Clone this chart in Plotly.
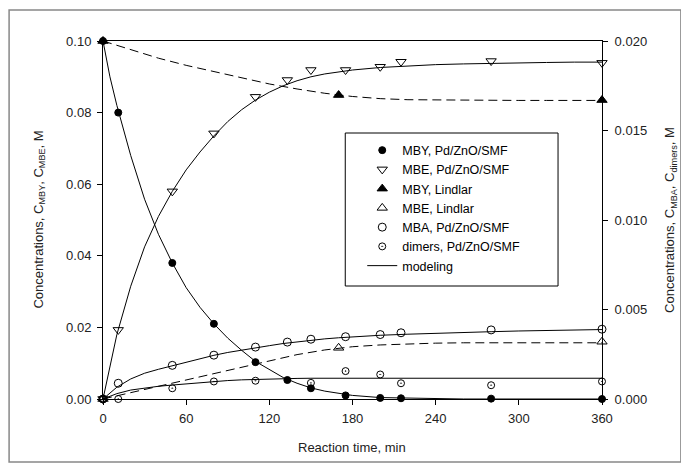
import plotly.graph_objects as go

# ---------------- data ----------------
t_exp = [0, 11, 50, 80, 110, 133, 150, 175, 200, 215, 280, 360]
mby_pd = [0.100, 0.080, 0.038, 0.021, 0.0103, 0.0053, 0.0030, 0.0010, 0.0003, 0.0002, 0.0001, 0.0]
mbe_pd = [0.0, 0.0193, 0.058, 0.0742, 0.0844, 0.0891, 0.0919, 0.0919, 0.0928, 0.0942, 0.0944, 0.0939]
mba_pd = [0.0, 0.00088, 0.00188, 0.00245, 0.0029, 0.00318, 0.00334, 0.00348, 0.0036, 0.0037, 0.00386, 0.0039]
dim_pd = [0.0, 0.0, 0.0006, 0.00098, 0.00102, None, 0.0009, 0.00156, 0.00137, 0.00088, 0.00077, 0.00098]

t_lind = [0, 170, 360]
mby_lind = [0.100, 0.0849, 0.0835]
mbe_lind = [0.0, 0.0143, 0.0160]

t_mod = [0, 5, 10, 20, 30, 40, 50, 60, 70, 80, 90, 100, 110, 120, 130, 140, 150,
         160, 170, 180, 200, 220, 240, 260, 280, 300, 320, 340, 360]
mod_mby_pd = [0.100, 0.090, 0.082, 0.068, 0.0558, 0.046, 0.038, 0.0311, 0.0256, 0.0210,
              0.0170, 0.0136, 0.0105, 0.0082, 0.0060, 0.0044, 0.0031, 0.0022, 0.0015,
              0.0010, 0.0004, 0.0002, 0.0001, 0.0, 0.0, 0.0, 0.0, 0.0, 0.0]
mod_mbe_pd = [0.0, 0.0095, 0.0180, 0.0315, 0.0425, 0.0510, 0.0580, 0.0640, 0.0690, 0.0735,
              0.0775, 0.0808, 0.0835, 0.0857, 0.0875, 0.0889, 0.0900, 0.0908, 0.0914,
              0.0919, 0.0926, 0.0931, 0.0934, 0.0936, 0.0938, 0.0939, 0.0940, 0.0941, 0.0941]
mod_mba_pd = [0.0, 0.00034, 0.00066, 0.00112, 0.00144, 0.00166, 0.00186, 0.00206, 0.00226,
              0.00244, 0.0026, 0.00274, 0.00286, 0.00298, 0.0031, 0.0032, 0.00328, 0.00336,
              0.00342, 0.00348, 0.00356, 0.00362, 0.00368, 0.00372, 0.00376, 0.0038,
              0.00382, 0.00386, 0.00388]
mod_dim_pd = [0.0, 0.00015, 0.0003, 0.0005, 0.00062, 0.00071, 0.00078, 0.00085, 0.00092,
              0.00098, 0.00103, 0.00107, 0.0011, 0.00112, 0.00114, 0.00115, 0.00116,
              0.00116, 0.00116, 0.00116, 0.00116, 0.00116, 0.00116, 0.00116, 0.00116,
              0.00116, 0.00116, 0.00116, 0.00116]

t_mod_l = [0, 20, 40, 60, 80, 100, 120, 140, 160, 180, 200, 220, 240, 260, 280, 300, 320, 340, 360]
mod_mby_l = [0.1000, 0.0975, 0.0952, 0.0932, 0.0914, 0.0897, 0.0880, 0.0866, 0.0854, 0.0845,
             0.0839, 0.0836, 0.0835, 0.0834, 0.0834, 0.0834, 0.0834, 0.0834, 0.0834]
mod_mbe_l = [0.0, 0.0018, 0.0035, 0.0053, 0.0071, 0.0090, 0.0108, 0.0124, 0.0137, 0.0146,
             0.0151, 0.0154, 0.0156, 0.0157, 0.0157, 0.0157, 0.0157, 0.0157, 0.0157]

x_ticks = [0, 60, 120, 180, 240, 300, 360]
yl_ticks = [0.00, 0.02, 0.04, 0.06, 0.08, 0.10]
yr_ticks = [0.000, 0.005, 0.010, 0.015, 0.020]

names = ["MBY, Pd/ZnO/SMF", "MBE, Pd/ZnO/SMF", "MBY, Lindlar", "MBE, Lindlar",
         "MBA, Pd/ZnO/SMF", "dimers, Pd/ZnO/SMF", "modeling"]

FONT = "Arial, Liberation Sans, sans-serif"
fig = go.Figure()

# model curves (drawn first, under the markers)
line_solid = dict(color="black", width=1)
line_dash = dict(color="black", width=1, dash="9px,5px")
fig.add_trace(go.Scatter(x=t_mod, y=mod_mby_pd, mode="lines", line=line_solid,
                         name=names[6], legendrank=7, showlegend=True, hoverinfo="skip"))
fig.add_trace(go.Scatter(x=t_mod, y=mod_mbe_pd, mode="lines", line=line_solid,
                         showlegend=False, hoverinfo="skip"))
fig.add_trace(go.Scatter(x=t_mod, y=mod_mba_pd, mode="lines", line=line_solid, yaxis="y2",
                         showlegend=False, hoverinfo="skip"))
fig.add_trace(go.Scatter(x=t_mod, y=mod_dim_pd, mode="lines", line=line_solid, yaxis="y2",
                         showlegend=False, hoverinfo="skip"))
fig.add_trace(go.Scatter(x=t_mod_l, y=mod_mby_l, mode="lines", line=line_dash,
                         showlegend=False, hoverinfo="skip"))
fig.add_trace(go.Scatter(x=t_mod_l, y=mod_mbe_l, mode="lines", line=line_dash,
                         showlegend=False, hoverinfo="skip"))

# experimental points
def mk(x, y, name, symbol, size, rank, axis="y", fill="black"):
    fig.add_trace(go.Scatter(
        x=x, y=y, mode="markers", name=name, yaxis=axis, legendrank=rank, cliponaxis=False,
        marker=dict(symbol=symbol, size=size, color=fill, line=dict(color="black", width=1))))

mk(t_exp, mby_pd, names[0], "circle", 7, 1)
mk(t_exp, mbe_pd, names[1], "triangle-down-open", 9, 2)
mk(t_lind, mby_lind, names[2], "triangle-up", 9, 3)
mk(t_lind, mbe_lind, names[3], "triangle-up-open", 9, 4)
mk(t_exp, mba_pd, names[4], "circle-open", 8, 5, axis="y2")
mk(t_exp, dim_pd, names[5], "circle-open-dot", 7, 6, axis="y2")

axis_common = dict(showgrid=False, zeroline=False, showline=True, linecolor="black",
                   linewidth=1, ticks="outside", ticklen=5, tickwidth=1, tickcolor="black",
                   tickfont=dict(family=FONT, size=13, color="#222"))

# The page body has an 8px margin, so the figure is 8px smaller than the window
# and all paper positions below are computed from window pixel positions.
PX0, PX1, PY0, PY1 = 102.5, 602.0, 41.0, 399.0   # plot area in window pixels
def px(x):
    return (x - PX0) / (PX1 - PX0)
def py(y):
    return (PY1 - y) / (PY1 - PY0)

fig.update_layout(
    width=681, height=462,
    margin=dict(l=PX0 - 8, r=689 - PX1, t=PY0 - 8, b=470 - PY1, autoexpand=False),
    paper_bgcolor="white", plot_bgcolor="white",
    font=dict(family=FONT, size=13, color="black"),
    xaxis=dict(range=[0, 360], tickvals=x_ticks, mirror=True, ticklabelstandoff=2, **axis_common),
    yaxis=dict(range=[0, 0.1], tickvals=yl_ticks, tickformat=".2f", ticklabelstandoff=3,
               **axis_common),
    yaxis2=dict(range=[0, 0.02], tickvals=yr_ticks, tickformat=".3f", overlaying="y",
                side="right", ticklabelstandoff=4, **axis_common),
    legend=dict(x=px(362), y=py(135.5), xanchor="left", yanchor="top",
                bgcolor="rgba(0,0,0,0)", borderwidth=0, itemwidth=30,
                font=dict(family=FONT, size=12.5, color="black"), traceorder="normal"),
    showlegend=True,
    shapes=[
        # outer frame
        dict(type="rect", xref="paper", yref="paper", x0=px(8.5), x1=px(681), y0=py(462),
             y1=py(10), line=dict(color="#888", width=1.5), layer="below"),
        # legend box
        dict(type="rect", xref="paper", yref="paper", x0=px(345), x1=px(558),
             y0=py(286), y1=py(133), line=dict(color="black", width=1),
             fillcolor="white", layer="above"),
    ],
    annotations=[
        dict(text="Reaction time, min", xref="paper", yref="paper", x=px(352), y=py(447),
             showarrow=False, xanchor="center", yanchor="middle",
             font=dict(family=FONT, size=13, color="#222")),
        dict(text="Concentrations, C<sub>MBY</sub>, C<sub>MBE</sub>, M", xref="paper",
             yref="paper", x=px(38), y=0.5, textangle=-90, showarrow=False,
             xanchor="center", yanchor="middle", font=dict(family=FONT, size=13, color="#222")),
        dict(text="Concentrations, C<sub>MBA</sub>, C<sub>dimers</sub>, M", xref="paper",
             yref="paper", x=px(670), y=0.5, textangle=-90, showarrow=False,
             xanchor="center", yanchor="middle", font=dict(family=FONT, size=13, color="#222")),
    ],
)

fig.write_html("out.html")
